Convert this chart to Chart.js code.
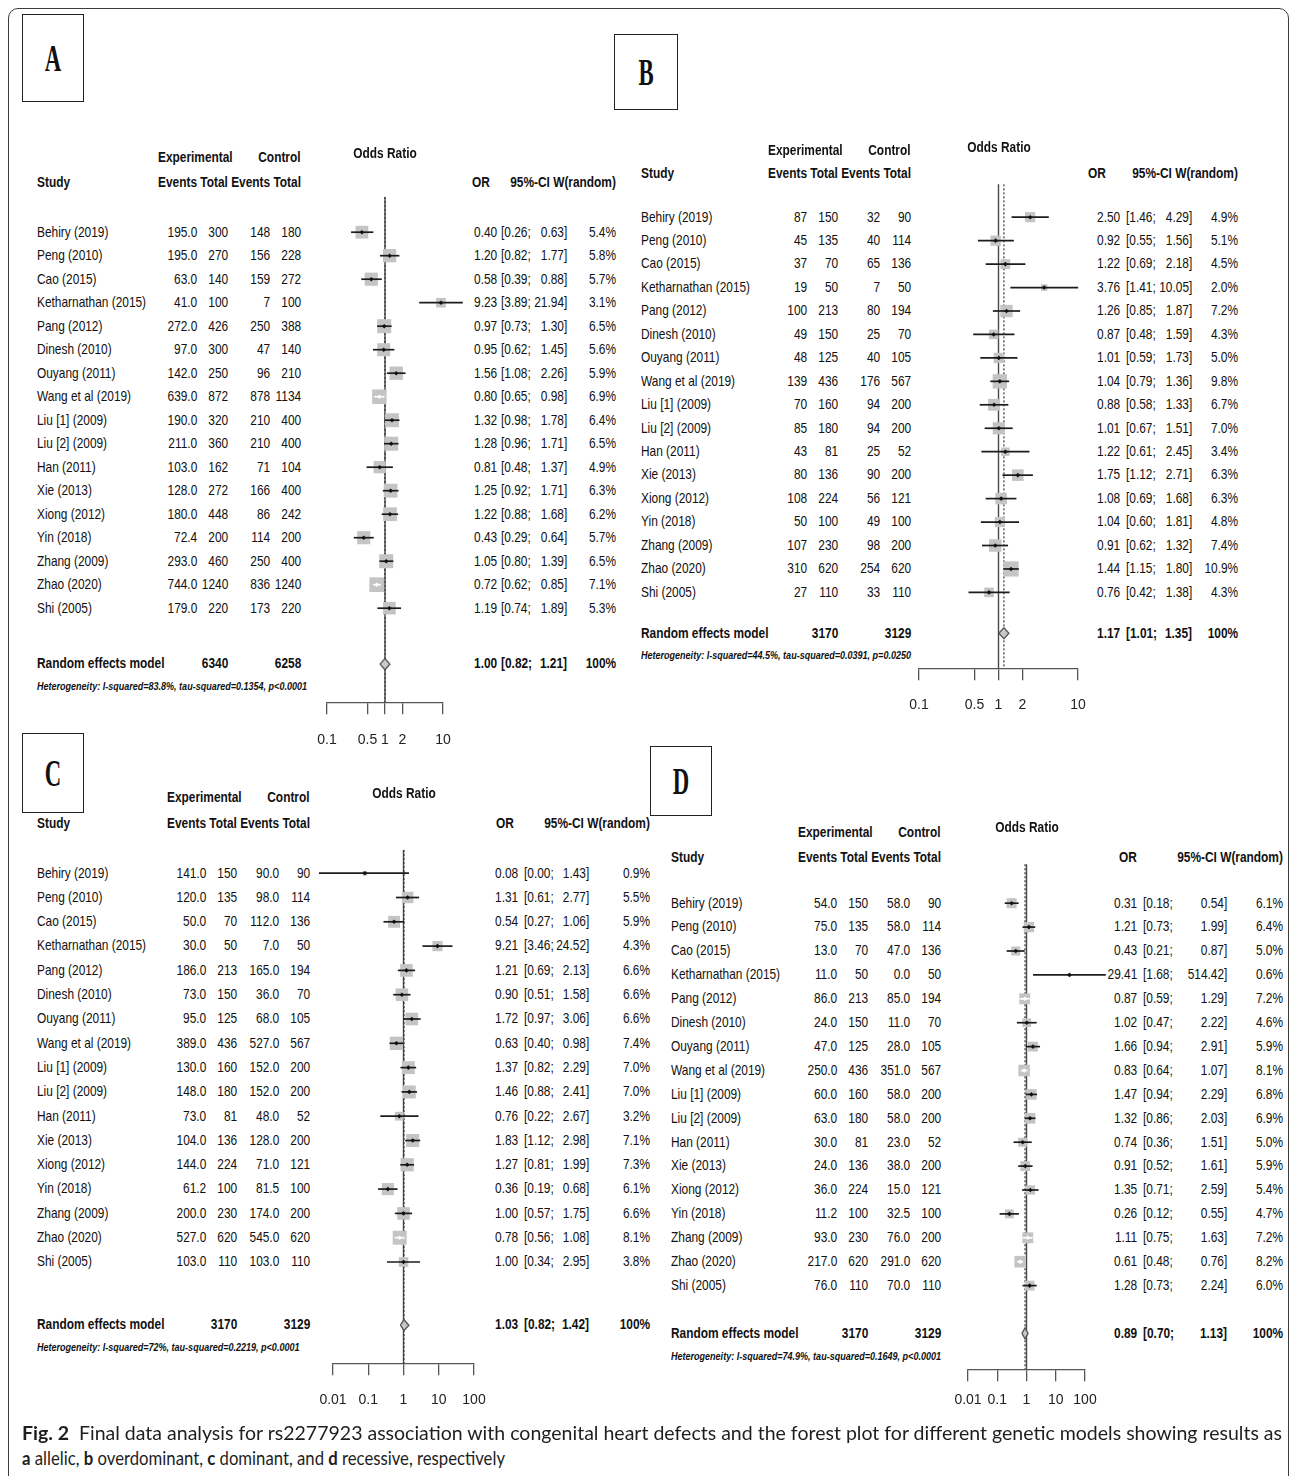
<!DOCTYPE html>
<html>
<head>
<meta charset="utf-8">
<title>Forest plots – rs2277923 and congenital heart defects</title>
<script src="https://cdn.jsdelivr.net/npm/chart.js@4.4.1/dist/chart.umd.min.js"></script>
<style>
  html, body { margin: 0; padding: 0; background: #fff; }
  #page { position: relative; width: 1295px; height: 1476px; overflow: hidden; background: #fff; }
  .t { position: absolute; white-space: pre; color: #111; }
  .frame { position: absolute; left: 8px; top: 8px; width: 1279px; height: 1530px;
           border: 1px solid #3c3c3c; border-radius: 10px; }
  .lbl { position: absolute; border: 1.5px solid #222; box-sizing: border-box; }
  canvas { position: absolute; }
</style>
</head>
<body>
<div id="page"><div class="frame"></div></div>
<script>
// ---------------- data ----------------
const studies = ["Behiry (2019)", "Peng (2010)", "Cao (2015)", "Ketharnathan (2015)", "Pang (2012)",
  "Dinesh (2010)", "Ouyang (2011)", "Wang et al (2019)", "Liu [1] (2009)", "Liu [2] (2009)",
  "Han (2011)", "Xie (2013)", "Xiong (2012)", "Yin (2018)", "Zhang (2009)", "Zhao (2020)", "Shi (2005)"];

// A: allelic model
const aExpEvents  = [195.0, 195.0, 63.0, 41.0, 272.0, 97.0, 142.0, 639.0, 190.0, 211.0, 103.0, 128.0, 180.0, 72.4, 293.0, 744.0, 179.0];
const aExpTotal   = [300, 270, 140, 100, 426, 300, 250, 872, 320, 360, 162, 272, 448, 200, 460, 1240, 220];
const aCtrlEvents = [148, 156, 159, 7, 250, 47, 96, 878, 210, 210, 71, 166, 86, 114, 250, 836, 173];
const aCtrlTotal  = [180, 228, 272, 100, 388, 140, 210, 1134, 400, 400, 104, 400, 242, 200, 400, 1240, 220];
const aOR     = [0.40, 1.20, 0.58, 9.23, 0.97, 0.95, 1.56, 0.80, 1.32, 1.28, 0.81, 1.25, 1.22, 0.43, 1.05, 0.72, 1.19];
const aLower  = [0.26, 0.82, 0.39, 3.89, 0.73, 0.62, 1.08, 0.65, 0.98, 0.96, 0.48, 0.92, 0.88, 0.29, 0.80, 0.62, 0.74];
const aUpper  = [0.63, 1.77, 0.88, 21.94, 1.30, 1.45, 2.26, 0.98, 1.78, 1.71, 1.37, 1.71, 1.68, 0.64, 1.39, 0.85, 1.89];
const aWeight = [5.4, 5.8, 5.7, 3.1, 6.5, 5.6, 5.9, 6.9, 6.4, 6.5, 4.9, 6.3, 6.2, 5.7, 6.5, 7.1, 5.3];
const aPooled = [1.00, 0.82, 1.21];
const aTotals = [6340, 6258];
const aHet = "Heterogeneity: I-squared=83.8%, tau-squared=0.1354, p<0.0001";

// B: overdominant model
const bExpEvents  = [87, 45, 37, 19, 100, 49, 48, 139, 70, 85, 43, 80, 108, 50, 107, 310, 27];
const bExpTotal   = [150, 135, 70, 50, 213, 150, 125, 436, 160, 180, 81, 136, 224, 100, 230, 620, 110];
const bCtrlEvents = [32, 40, 65, 7, 80, 25, 40, 176, 94, 94, 25, 90, 56, 49, 98, 254, 33];
const bCtrlTotal  = [90, 114, 136, 50, 194, 70, 105, 567, 200, 200, 52, 200, 121, 100, 200, 620, 110];
const bOR     = [2.50, 0.92, 1.22, 3.76, 1.26, 0.87, 1.01, 1.04, 0.88, 1.01, 1.22, 1.75, 1.08, 1.04, 0.91, 1.44, 0.76];
const bLower  = [1.46, 0.55, 0.69, 1.41, 0.85, 0.48, 0.59, 0.79, 0.58, 0.67, 0.61, 1.12, 0.69, 0.60, 0.62, 1.15, 0.42];
const bUpper  = [4.29, 1.56, 2.18, 10.05, 1.87, 1.59, 1.73, 1.36, 1.33, 1.51, 2.45, 2.71, 1.68, 1.81, 1.32, 1.80, 1.38];
const bWeight = [4.9, 5.1, 4.5, 2.0, 7.2, 4.3, 5.0, 9.8, 6.7, 7.0, 3.4, 6.3, 6.3, 4.8, 7.4, 10.9, 4.3];
const bPooled = [1.17, 1.01, 1.35];
const bTotals = [3170, 3129];
const bHet = "Heterogeneity: I-squared=44.5%, tau-squared=0.0391, p=0.0250";

// C: dominant model
const cExpEvents  = [141.0, 120.0, 50.0, 30.0, 186.0, 73.0, 95.0, 389.0, 130.0, 148.0, 73.0, 104.0, 144.0, 61.2, 200.0, 527.0, 103.0];
const cExpTotal   = [150, 135, 70, 50, 213, 150, 125, 436, 160, 180, 81, 136, 224, 100, 230, 620, 110];
const cCtrlEvents = [90.0, 98.0, 112.0, 7.0, 165.0, 36.0, 68.0, 527.0, 152.0, 152.0, 48.0, 128.0, 71.0, 81.5, 174.0, 545.0, 103.0];
const cCtrlTotal  = [90, 114, 136, 50, 194, 70, 105, 567, 200, 200, 52, 200, 121, 100, 200, 620, 110];
const cOR     = [0.08, 1.31, 0.54, 9.21, 1.21, 0.90, 1.72, 0.63, 1.37, 1.46, 0.76, 1.83, 1.27, 0.36, 1.00, 0.78, 1.00];
const cLower  = [0.00, 0.61, 0.27, 3.46, 0.69, 0.51, 0.97, 0.40, 0.82, 0.88, 0.22, 1.12, 0.81, 0.19, 0.57, 0.56, 0.34];
const cUpper  = [1.43, 2.77, 1.06, 24.52, 2.13, 1.58, 3.06, 0.98, 2.29, 2.41, 2.67, 2.98, 1.99, 0.68, 1.75, 1.08, 2.95];
const cWeight = [0.9, 5.5, 5.9, 4.3, 6.6, 6.6, 6.6, 7.4, 7.0, 7.0, 3.2, 7.1, 7.3, 6.1, 6.6, 8.1, 3.8];
const cPooled = [1.03, 0.82, 1.42];
const cTotals = [3170, 3129];
const cHet = "Heterogeneity: I-squared=72%, tau-squared=0.2219, p<0.0001";

// D: recessive model
const dExpEvents  = [54.0, 75.0, 13.0, 11.0, 86.0, 24.0, 47.0, 250.0, 60.0, 63.0, 30.0, 24.0, 36.0, 11.2, 93.0, 217.0, 76.0];
const dExpTotal   = [150, 135, 70, 50, 213, 150, 125, 436, 160, 180, 81, 136, 224, 100, 230, 620, 110];
const dCtrlEvents = [58.0, 58.0, 47.0, 0.0, 85.0, 11.0, 28.0, 351.0, 58.0, 58.0, 23.0, 38.0, 15.0, 32.5, 76.0, 291.0, 70.0];
const dCtrlTotal  = [90, 114, 136, 50, 194, 70, 105, 567, 200, 200, 52, 200, 121, 100, 200, 620, 110];
const dOR     = [0.31, 1.21, 0.43, 29.41, 0.87, 1.02, 1.66, 0.83, 1.47, 1.32, 0.74, 0.91, 1.35, 0.26, 1.11, 0.61, 1.28];
const dLower  = [0.18, 0.73, 0.21, 1.68, 0.59, 0.47, 0.94, 0.64, 0.94, 0.86, 0.36, 0.52, 0.71, 0.12, 0.75, 0.48, 0.73];
const dUpper  = [0.54, 1.99, 0.87, 514.42, 1.29, 2.22, 2.91, 1.07, 2.29, 2.03, 1.51, 1.61, 2.59, 0.55, 1.63, 0.76, 2.24];
const dWeight = [6.1, 6.4, 5.0, 0.6, 7.2, 4.6, 5.9, 8.1, 6.8, 6.9, 5.0, 5.9, 5.4, 4.7, 7.2, 8.2, 6.0];
const dPooled = [0.89, 0.70, 1.13];
const dTotals = [3170, 3129];
const dHet = "Heterogeneity: I-squared=74.9%, tau-squared=0.1649, p<0.0001";

// axis ticks
const abTicks = [0.1, 0.5, 1, 2, 10];
const abTickLabels = ["0.1", "0.5", "1", "2", "10"];
const cdTicks = [0.01, 0.1, 1, 10, 100];
const cdTickLabels = ["0.01", "0.1", "1", "10", "100"];

// ---------------- fonts & text helpers ----------------
const PAGE_W = 1295;
const page = document.getElementById('page');

const probe = document.createElement('canvas').getContext('2d');
probe.font = '40px "Liberation Sans Narrow", monospace';
const wNarrow = probe.measureText('Events Total 0123').width;
probe.font = '40px monospace';
const wMono = probe.measureText('Events Total 0123').width;
const HAS_NARROW = Math.abs(wNarrow - wMono) > 0.5;
const FAM = HAS_NARROW ? '"Liberation Sans Narrow", "Liberation Sans", Arial, sans-serif'
                       : '"Liberation Sans", Arial, sans-serif';
const SX = HAS_NARROW ? 1 : 0.82;
const FS = 14.5;

function txt(str, x, y, o = {}) {
  const el = document.createElement('div');
  el.className = 't';
  el.textContent = str;
  const size = o.size || FS;
  const lh = Math.round(size * 1.3);
  el.style.fontFamily = o.family || FAM;
  el.style.fontSize = size + 'px';
  el.style.lineHeight = lh + 'px';
  el.style.top = (y - lh / 2) + 'px';
  if (o.bold) el.style.fontWeight = 'bold';
  if (o.italic) el.style.fontStyle = 'italic';
  const sx = o.sx || SX;
  const align = o.align || 'left';
  if (align === 'left') {
    el.style.left = x + 'px';
    el.style.transformOrigin = 'left center';
    el.style.transform = `scaleX(${sx})`;
  } else if (align === 'right') {
    el.style.right = (PAGE_W - x) + 'px';
    el.style.transformOrigin = 'right center';
    el.style.transform = `scaleX(${sx})`;
  } else {
    el.style.left = x + 'px';
    el.style.transformOrigin = 'center center';
    el.style.transform = `translateX(-50%) scaleX(${sx})`;
  }
  page.appendChild(el);
  return el;
}

function pageX(v) { return v - page.getBoundingClientRect().left; }

// ---------------- panel description ----------------
const panels = [
  { letter: 'A', expEvents: aExpEvents, expTotal: aExpTotal, ctrlEvents: aCtrlEvents, ctrlTotal: aCtrlTotal,
    or: aOR, lo: aLower, hi: aUpper, w: aWeight, pooled: aPooled, totals: aTotals, het: aHet,
    ticks: abTicks, tickLabels: abTickLabels, expDec: 1, ctrlDec: 0,
    L: { box: [22, 14, 62, 88], studyX: 37, hx: 158, rowTop: 232, step: 23.5, titleY: 153, h1Y: 157, h2Y: 182,
         lineTopRows: 1.5, sumGap: 2.38, hetGap: 0.94, axisY: 702, xMinPx: 327, xMaxPx: 443, tickPad: 18,
         orR: 497, ciL: 501, ciR: 567, wR: 616, hdrOR: 481, k: 5.5, floor: 0 } },
  { letter: 'B', expEvents: bExpEvents, expTotal: bExpTotal, ctrlEvents: bCtrlEvents, ctrlTotal: bCtrlTotal,
    or: bOR, lo: bLower, hi: bUpper, w: bWeight, pooled: bPooled, totals: bTotals, het: bHet,
    ticks: abTicks, tickLabels: abTickLabels, expDec: 0, ctrlDec: 0,
    L: { box: [614, 34, 64, 76], studyX: 641, hx: 768, rowTop: 217, step: 23.45, titleY: 147, h1Y: 150, h2Y: 173,
         lineTopRows: 1.4, sumGap: 1.74, hetGap: 0.94, axisY: 668, xMinPx: 919, xMaxPx: 1078, tickPad: 17,
         orR: 1120, ciL: 1126, ciR: 1192, wR: 1238, hdrOR: 1097, k: 4.6, floor: 0 } },
  { letter: 'C', expEvents: cExpEvents, expTotal: cExpTotal, ctrlEvents: cCtrlEvents, ctrlTotal: cCtrlTotal,
    or: cOR, lo: cLower, hi: cUpper, w: cWeight, pooled: cPooled, totals: cTotals, het: cHet,
    ticks: cdTicks, tickLabels: cdTickLabels, expDec: 1, ctrlDec: 1,
    L: { box: [22, 733, 62, 80], studyX: 37, hx: 167, rowTop: 873, step: 24.3, titleY: 793, h1Y: 797, h2Y: 823,
         lineTopRows: 0.95, sumGap: 2.6, hetGap: 0.9, axisY: 1363, xMinPx: 333, xMaxPx: 474, tickPad: 17,
         orR: 518, ciL: 524, ciR: 589, wR: 650, hdrOR: 505, k: 4.9, floor: 0.004 } },
  { letter: 'D', expEvents: dExpEvents, expTotal: dExpTotal, ctrlEvents: dCtrlEvents, ctrlTotal: dCtrlTotal,
    or: dOR, lo: dLower, hi: dUpper, w: dWeight, pooled: dPooled, totals: dTotals, het: dHet,
    ticks: cdTicks, tickLabels: cdTickLabels, expDec: 1, ctrlDec: 1,
    L: { box: [650, 746, 62, 70], studyX: 671, hx: 798, rowTop: 903, step: 23.9, titleY: 827, h1Y: 832, h2Y: 857,
         lineTopRows: 1.63, sumGap: 2.0, hetGap: 0.96, axisY: 1369, xMinPx: 968, xMaxPx: 1085, tickPad: 11,
         orR: 1137, ciL: 1143, ciR: 1227, wR: 1283, hdrOR: 1128, k: 4.05, floor: 0 } }
];

// ---------------- forest plot (Chart.js) ----------------
function forestChart(p) {
  const L = p.L, n = studies.length;
  const PADX = 40;
  const W = Math.round(L.xMaxPx - L.xMinPx) + 2 * PADX;
  const H = Math.round(L.axisY - L.rowTop + L.step * 3 + 70);
  const cv = document.createElement('canvas');
  cv.width = W; cv.height = H;
  cv.style.width = W + 'px'; cv.style.height = H + 'px';
  page.appendChild(cv);

  const sumRow = n - 1 + L.sumGap;
  const side = p.w.map(w => L.k * Math.sqrt(w));
  const [po, pl, ph] = p.pooled;
  const dh = 5.5 / L.step;

  const ds = [];
  // line of no effect and dotted line at the pooled estimate
  ds.push({ data: [{ x: 1, y: -L.lineTopRows }, { x: 1, y: sumRow }], showLine: true,
            borderColor: '#474747', borderWidth: 1.4, pointRadius: 0, order: 9 });
  ds.push({ data: [{ x: po, y: -L.lineTopRows }, { x: po, y: sumRow }], showLine: true,
            borderColor: '#333', borderWidth: 1.2, borderDash: [2, 2], pointRadius: 0, order: 8 });
  // study squares, area proportional to weight
  ds.push({ data: p.or.map((v, i) => ({ x: v, y: i })), pointStyle: 'rect',
            pointRadius: side.map(s => s / Math.SQRT2), backgroundColor: '#c4c4c4',
            borderWidth: 0, order: 7, clip: false });
  // confidence intervals
  p.lo.forEach((lo, i) => ds.push({
    data: [{ x: Math.max(lo, L.floor), y: i }, { x: p.hi[i], y: i }], showLine: true,
    borderColor: '#1c1c1c', borderWidth: 1.7, pointRadius: 0, order: 6, clip: false }));
  // point estimates
  ds.push({ data: p.or.map((v, i) => ({ x: v, y: i })), pointStyle: 'rectRot', pointRadius: 2.3,
            backgroundColor: p.or.map(() => '#111'), borderWidth: 0, order: 5, clip: false });
  // pooled diamond
  ds.push({ data: [{ x: pl, y: sumRow }, { x: po, y: sumRow - dh }, { x: ph, y: sumRow },
                   { x: po, y: sumRow + dh }, { x: pl, y: sumRow }],
            showLine: true, fill: 'shape', backgroundColor: '#c9c9c9', borderColor: '#595959',
            borderWidth: 1.4, pointRadius: 0, order: 4, clip: false });

  const chart = new Chart(cv, {
    type: 'scatter',
    data: { datasets: ds },
    options: {
      responsive: false, maintainAspectRatio: false, animation: false, devicePixelRatio: 1, events: [],
      layout: { padding: { left: PADX, right: PADX, top: 0, bottom: 0 } },
      plugins: { legend: { display: false }, tooltip: { enabled: false } },
      elements: { line: { tension: 0, borderJoinStyle: 'miter' } },
      scales: {
        x: {
          type: 'logarithmic', min: p.ticks[0], max: p.ticks[p.ticks.length - 1],
          afterBuildTicks: s => { s.ticks = p.ticks.map(v => ({ value: v })); },
          ticks: { autoSkip: false, maxRotation: 0, minRotation: 0, padding: L.tickPad, color: '#222',
                   font: { family: FAM, size: 14 }, callback: (v, i) => p.tickLabels[i] },
          grid: { display: true, drawOnChartArea: false, drawTicks: true, tickLength: 12,
                  color: '#555', lineWidth: 1.3 },
          border: { display: true, color: '#555', width: 1.3 }
        },
        y: { type: 'linear', display: false, reverse: true, min: -3, max: sumRow + 1 }
      }
    }
  });

  const area = chart.chartArea;
  const left = L.xMinPx - area.left;
  const top = L.axisY - area.bottom;
  cv.style.left = left + 'px';
  cv.style.top = top + 'px';
  const yMin = -(L.rowTop - (top + area.top)) / L.step;
  const yMax = yMin + (area.bottom - area.top) / L.step;
  chart.options.scales.y.min = yMin;
  chart.options.scales.y.max = yMax;
  ds[0].data[1].y = yMax;
  ds[1].data[1].y = yMax;

  // intervals lying completely inside their square are drawn in white
  const xs = chart.scales.x;
  p.or.forEach((v, i) => {
    const c = xs.getPixelForValue(v);
    const a = xs.getPixelForValue(Math.max(p.lo[i], L.floor));
    const b = xs.getPixelForValue(p.hi[i]);
    if (Math.max(c - a, b - c) <= side[i] / 2) {
      ds[3 + i].borderColor = '#ffffff';
      ds[3 + n].backgroundColor[i] = '#ffffff';
    }
  });
  chart.update('none');
  return { chart, left };
}

// ---------------- panel tables ----------------
function drawPanel(p) {
  const L = p.L, n = studies.length;
  const rowY = r => L.rowTop + r * L.step;
  const sumRow = n - 1 + L.sumGap;
  const hetRow = sumRow + L.hetGap;

  // panel letter
  const box = document.createElement('div');
  box.className = 'lbl';
  Object.assign(box.style, { left: L.box[0] + 'px', top: L.box[1] + 'px', width: L.box[2] + 'px', height: L.box[3] + 'px' });
  page.appendChild(box);
  txt(p.letter, L.box[0] + L.box[2] / 2, L.box[1] + L.box[3] / 2,
      { family: '"Liberation Serif", "Times New Roman", serif', bold: true, size: 38, align: 'center', sx: 0.6 });

  // column headers
  txt('Study', L.studyX, L.h2Y, { bold: true });
  const hdr = txt('', L.hx, L.h2Y, { bold: true });
  ['Events', 'Total', 'Events', 'Total'].forEach((word, i) => {
    if (i) hdr.appendChild(document.createTextNode(' '));
    const s = document.createElement('span');
    s.textContent = word;
    hdr.appendChild(s);
  });
  const rights = [...hdr.querySelectorAll('span')].map(s => pageX(s.getBoundingClientRect().right));
  txt('Experimental', L.hx, L.h1Y, { bold: true });
  txt('Control', rights[3], L.h1Y, { bold: true, align: 'right' });
  txt('OR', L.hdrOR, L.h2Y, { bold: true, align: 'center' });
  txt('95%-CI W(random)', L.wR, L.h2Y, { bold: true, align: 'right' });

  // study rows
  studies.forEach((s, i) => {
    const y = rowY(i);
    txt(s, L.studyX, y);
    txt(p.expEvents[i].toFixed(p.expDec), rights[0], y, { align: 'right' });
    txt(String(p.expTotal[i]), rights[1], y, { align: 'right' });
    txt(p.ctrlEvents[i].toFixed(p.ctrlDec), rights[2], y, { align: 'right' });
    txt(String(p.ctrlTotal[i]), rights[3], y, { align: 'right' });
    txt(p.or[i].toFixed(2), L.orR, y, { align: 'right' });
    txt('[' + p.lo[i].toFixed(2) + ';', L.ciL, y);
    txt(p.hi[i].toFixed(2) + ']', L.ciR, y, { align: 'right' });
    txt(p.w[i].toFixed(1) + '%', L.wR, y, { align: 'right' });
  });

  // pooled row
  const ys = rowY(sumRow);
  txt('Random effects model', L.studyX, ys, { bold: true });
  txt(String(p.totals[0]), rights[1], ys, { bold: true, align: 'right' });
  txt(String(p.totals[1]), rights[3], ys, { bold: true, align: 'right' });
  txt(p.pooled[0].toFixed(2), L.orR, ys, { bold: true, align: 'right' });
  txt('[' + p.pooled[1].toFixed(2) + ';', L.ciL, ys, { bold: true });
  txt(p.pooled[2].toFixed(2) + ']', L.ciR, ys, { bold: true, align: 'right' });
  txt('100%', L.wR, ys, { bold: true, align: 'right' });
  txt(p.het, L.studyX, rowY(hetRow), { bold: true, italic: true, size: 11 });

  // plot and its title
  const { chart, left } = forestChart(p);
  txt('Odds Ratio', left + chart.scales.x.getPixelForValue(1), L.titleY, { bold: true, align: 'center' });
}

panels.forEach(drawPanel);

// ---------------- caption ----------------
function captionLine(html, x, y, target, size) {
  const el = document.createElement('div');
  el.className = 't';
  el.style.whiteSpace = 'nowrap';
  el.innerHTML = html;
  const lh = Math.round(size * 1.3);
  el.style.fontFamily = 'Lato, "Open Sans", "Noto Sans", sans-serif';
  el.style.fontSize = size + 'px';
  el.style.lineHeight = lh + 'px';
  el.style.left = x + 'px';
  el.style.top = (y - lh / 2) + 'px';
  el.style.color = '#1e1e1e';
  el.style.transformOrigin = 'left center';
  page.appendChild(el);
  const w = el.getBoundingClientRect().width;
  el.style.transform = `scaleX(${target / w})`;
}
captionLine('<b>Fig. 2</b>&nbsp; Final data analysis for rs2277923 association with congenital heart defects and the forest plot for different genetic models showing results as',
            22, 1432, 1260, 19);
captionLine('<b>a</b> allelic, <b>b</b> overdominant, <b>c</b> dominant, and <b>d</b> recessive, respectively',
            22, 1457, 483, 19);
</script>
</body>
</html>
